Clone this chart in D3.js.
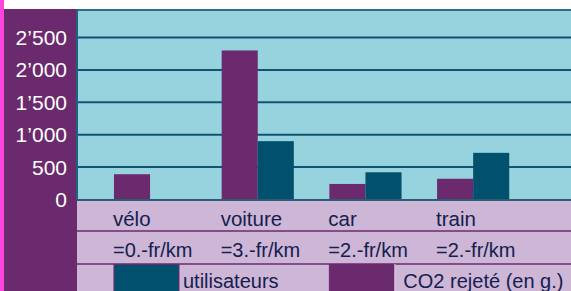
<!DOCTYPE html>
<html>
<head>
<meta charset="utf-8">
<script src="https://cdn.jsdelivr.net/npm/d3@7"></script>
<style>
  html, body { margin: 0; padding: 0; background: #fff; }
  svg { display: block; font-family: "Liberation Sans", Arial, sans-serif; }
</style>
</head>
<body>
<div id="chart"></div>
<script>
// categories and values
const categories = ["vélo", "voiture", "car", "train"];
const prices = ["=0.-fr/km", "=3.-fr/km", "=2.-fr/km", "=2.-fr/km"];
const co2 = [390, 2300, 240, 320];       // CO2 rejeté (en g.)
const users = [0, 900, 420, 720];        // utilisateurs
const yTicks = [0, 500, 1000, 1500, 2000, 2500];
const legendLabels = ["utilisateurs", "CO2 rejeté (en g.)"];

const width = 571, height = 291;
const purple = "#6b2a6e", teal = "#00506e", plotBg = "#96d3de",
      tableBg = "#cdb6d6", textDark = "#15204f", pink = "#ff44dd";

const plotLeft = 76, plotTop = 9, baseY = 200;
const rowH = [31, 33, 27];

const svg = d3.select("#chart").append("svg")
  .attr("width", width).attr("height", height);

// background pieces
svg.append("rect").attr("x", 0).attr("y", 0).attr("width", 4).attr("height", height).attr("fill", pink);
svg.append("rect").attr("x", 4).attr("y", plotTop).attr("width", plotLeft - 4).attr("height", height - plotTop).attr("fill", purple);
svg.append("rect").attr("x", plotLeft).attr("y", plotTop).attr("width", width - plotLeft).attr("height", baseY - plotTop).attr("fill", plotBg);

const y = d3.scaleLinear().domain([0, 2500]).range([199.5, 37.5]);
const x = d3.scaleBand().domain(categories).range([96.2, 527]).paddingInner(0.33).paddingOuter(0.165);
const xs = d3.scaleBand().domain(["co2", "users"]).range([0, x.bandwidth()]);

// gridlines
svg.append("g").selectAll("line").data(yTicks.slice(1)).join("line")
  .attr("x1", plotLeft).attr("x2", width)
  .attr("y1", d => y(d)).attr("y2", d => y(d))
  .attr("stroke", "#0f5572").attr("stroke-width", 2);
svg.append("line").attr("x1", plotLeft).attr("x2", width).attr("y1", plotTop + 1).attr("y2", plotTop + 1)
  .attr("stroke", "#2f6f86").attr("stroke-width", 2);
svg.append("line").attr("x1", plotLeft + 1).attr("x2", plotLeft + 1).attr("y1", plotTop).attr("y2", baseY)
  .attr("stroke", "#1b6480").attr("stroke-width", 2);

// bars
const groups = svg.append("g").selectAll("g").data(categories).join("g")
  .attr("transform", d => `translate(${x(d)},0)`);
groups.append("rect")
  .attr("x", xs("co2")).attr("width", xs.bandwidth())
  .attr("y", (d, i) => y(co2[i])).attr("height", (d, i) => y(0) - y(co2[i]))
  .attr("fill", purple);
groups.append("rect")
  .attr("x", xs("users")).attr("width", xs.bandwidth())
  .attr("y", (d, i) => y(users[i])).attr("height", (d, i) => y(0) - y(users[i]))
  .attr("fill", teal);

// y axis labels
const fmt = d => d3.format(",")(d).replace(",", "\u2019");
svg.append("g").selectAll("text").data(yTicks).join("text")
  .attr("x", 67).attr("y", d => y(d) + 7.5)
  .attr("text-anchor", "end").attr("fill", "#fff")
  .style("font-size", "21px")
  .text(fmt);

// table below
let ty = baseY;
const rowTops = rowH.map(h => { const t = ty; ty += h; return t; });
svg.append("rect").attr("x", plotLeft).attr("y", baseY).attr("width", width - plotLeft).attr("height", height - baseY).attr("fill", tableBg);
svg.append("line").attr("x1", plotLeft).attr("x2", width).attr("y1", baseY).attr("y2", baseY)
  .attr("stroke", "#2a5c78").attr("stroke-width", 2);
svg.append("g").selectAll("line").data(rowTops.slice(1)).join("line")
  .attr("x1", plotLeft).attr("x2", width).attr("y1", d => d).attr("y2", d => d)
  .attr("stroke", purple).attr("stroke-width", 1.5);
svg.append("line").attr("x1", plotLeft + 0.5).attr("x2", plotLeft + 0.5).attr("y1", baseY).attr("y2", height)
  .attr("stroke", purple).attr("stroke-width", 1);

svg.append("g").selectAll("text").data(categories).join("text")
  .attr("x", d => x(d) - 1).attr("y", rowTops[0] + 26)
  .attr("fill", textDark).style("font-size", "20.5px").text(d => d);
svg.append("g").selectAll("text").data(prices).join("text")
  .attr("x", (d, i) => x(categories[i]) - 1).attr("y", rowTops[1] + 26)
  .attr("fill", textDark).style("font-size", "20px").text(d => d);

// legend row
const swW = 65;
const legend = [
  { x0: x(categories[0]), color: teal, label: legendLabels[0], gap: 4 },
  { x0: x(categories[2]), color: purple, label: legendLabels[1], gap: 9 }
];
legend.forEach(l => {
  svg.append("rect").attr("x", l.x0).attr("y", rowTops[2] + 0.5).attr("width", swW).attr("height", rowH[2])
    .attr("fill", l.color).attr("stroke", purple).attr("stroke-width", 1);
  svg.append("text").attr("x", l.x0 + swW + l.gap).attr("y", rowTops[2] + 24)
    .attr("fill", textDark).style("font-size", "20px").text(l.label);
});
svg.append("line").attr("x1", x(categories[2]) + swW + 0.5).attr("x2", x(categories[2]) + swW + 0.5)
  .attr("y1", rowTops[2]).attr("y2", height).attr("stroke", "#e4d6ea").attr("stroke-width", 1);
</script>
</body>
</html>
